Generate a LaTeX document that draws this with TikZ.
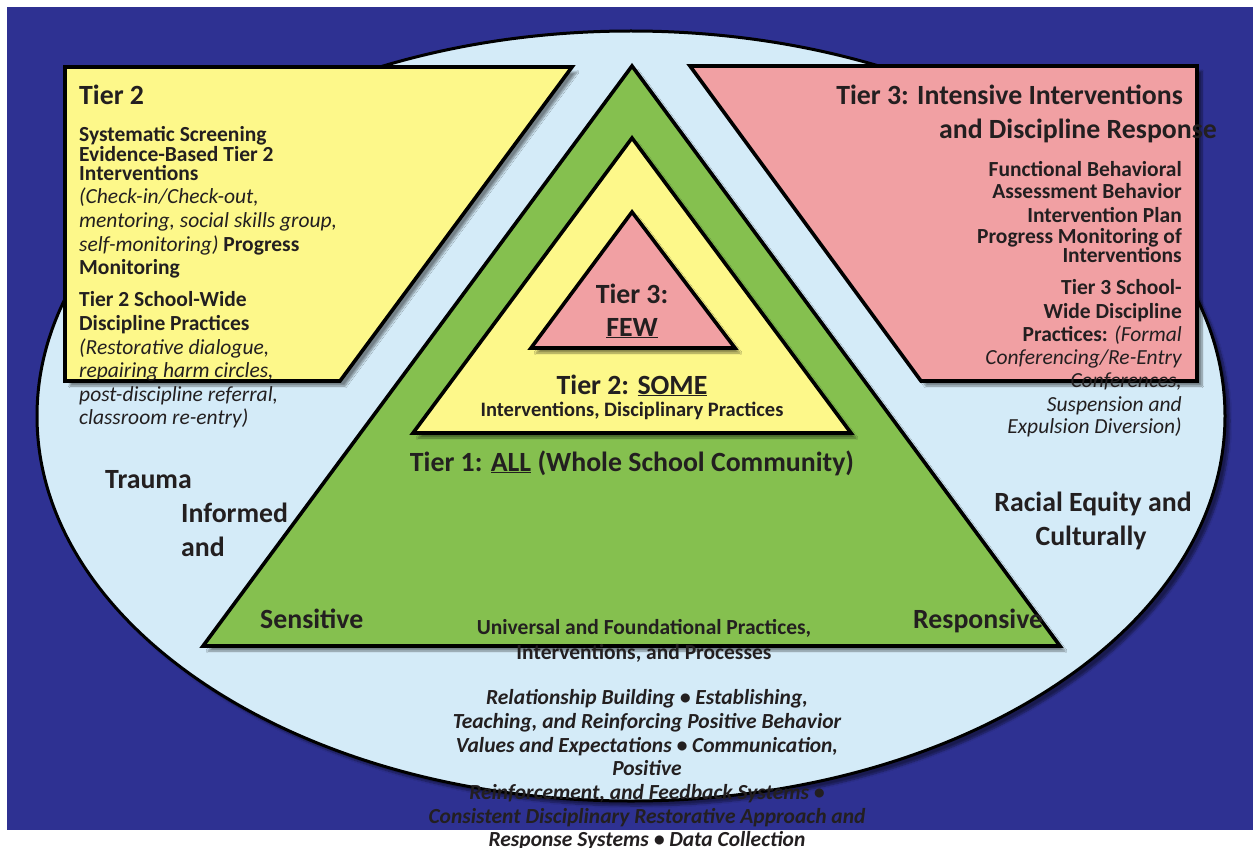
\documentclass[tikz,border=0pt]{standalone}
\usepackage{fontspec}
\setmainfont{Carlito}
\usetikzlibrary{shadows.blur}
\definecolor{bgblue}{HTML}{2E3192}
\definecolor{ellfill}{HTML}{D4EBF8}
\definecolor{tgreen}{HTML}{85C04F}
\definecolor{tyellow}{HTML}{FDF88A}
\definecolor{tpink}{HTML}{F1A0A3}
\definecolor{txt}{HTML}{231F20}
\begin{document}
\begin{tikzpicture}[x=1pt,y=-1pt,
  shape outline/.style={draw=black,line width=3.6pt,line join=miter},
  shadowed/.style={blur shadow={shadow xshift=5pt,shadow yshift=-5pt,shadow blur steps=8,shadow opacity=45}},
  lbl/.style={inner sep=0pt,text=txt,font=\fontsize{21.5}{24}\selectfont\bfseries},
  big/.style={lbl,font=\fontsize{27.8}{30}\selectfont\bfseries},
  itl/.style={lbl,font=\fontsize{21.5}{24}\selectfont\itshape},
  bit/.style={lbl,font=\fontsize{21.5}{24}\selectfont\bfseries\itshape},
  small/.style={lbl,font=\fontsize{20.5}{23}\selectfont\bfseries},
  L/.style={anchor=base west},
  R/.style={anchor=base east},
  C/.style={anchor=base}]
\useasboundingbox (0,0) rectangle (1253,848);
\fill[bgblue] (7,7) rectangle (1253,830);
\path[shadowed,fill=ellfill,draw=black,line width=3pt] (631,416) ellipse [x radius=594, y radius=385];
% boxes
\path[shadowed,fill=tyellow,shape outline] (65,67) -- (572,67) -- (340,381) -- (65,381) -- cycle;
\path[shadowed,fill=tpink,shape outline] (690,66) -- (1197,66) -- (1197,381) -- (921,381) -- cycle;
% triangles
\path[shadowed,fill=tgreen,shape outline] (632,66) -- (1060,646) -- (203,646) -- cycle;
\path[shadowed,fill=tyellow,shape outline] (632,138) -- (851,433) -- (413,433) -- cycle;
\path[shadowed,fill=tpink,shape outline] (632,212) -- (735,348) -- (531,348) -- cycle;
% left box text
\node[big,L] (t2title) at (79,105) {Tier 2};
\node[lbl,L] (t2a) at (79,142) {Systematic Screening};
\node[lbl,L] (t2b) at (79,161) {Evidence-Based Tier 2};
\node[lbl,L] (t2c) at (79,180) {Interventions};
\node[itl,L] (t2d) at (79,203) {(Check-in/Check-out,};
\node[itl,L] (t2e) at (79,227) {mentoring, social skills group,};
\node[itl,L] (t2f) at (79,251) {self-monitoring) \bfseries\upshape Progress};
\node[lbl,L] (t2g) at (79,274) {Monitoring};
\node[lbl,L] (t2h) at (79,306) {Tier 2 School-Wide};
\node[lbl,L] (t2i) at (79,330) {Discipline Practices};
\node[itl,L] (t2j) at (79,354) {(Restorative dialogue,};
\node[itl,L] (t2k) at (79,377) {repairing harm circles,};
\node[itl,L] (t2l) at (79,401) {post-discipline referral,};
\node[itl,L] (t2m) at (79,424) {classroom re-entry)};
% right box text
\node[big,R] (t3title) at (1183,105) {Tier 3: Intensive Interventions};
\node[big,R] (t3title2) at (1217,139) {and Discipline Response};
\node[lbl,R] (t3a) at (1182,176) {Functional Behavioral};
\node[lbl,R] (t3b) at (1182,198) {Assessment Behavior};
\node[lbl,R] (t3c) at (1182,222) {Intervention Plan};
\node[lbl,R] (t3d) at (1182,243) {Progress Monitoring of};
\node[lbl,R] (t3e) at (1182,262) {Interventions};
\node[lbl,R] (t3f) at (1182,294) {Tier 3 School-};
\node[lbl,R] (t3g) at (1182,318) {Wide Discipline};
\node[lbl,R] (t3h) at (1182,341) {Practices: \mdseries\itshape (Formal};
\node[itl,R] (t3i) at (1182,364) {Conferencing/Re-Entry};
\node[itl,R] (t3j) at (1182,387) {Conferences,};
\node[itl,R] (t3k) at (1182,411) {Suspension and};
\node[itl,R] (t3l) at (1182,433) {Expulsion Diversion)};
% pyramid text
\node[big,C] (few1) at (632,303) {Tier 3:};
\node[big,C] (few2) at (632,336) {\underline{FEW}};
\node[big,C] (some1) at (632,394) {Tier 2: \underline{SOME}};
\node[small,C] (some2) at (632,416) {Interventions, Disciplinary Practices};
\node[big,C] (all1) at (632,471) {Tier 1: \underline{ALL} (Whole School Community)};
% side words
\node[big,L] (tr1) at (105,488) {Trauma};
\node[big,L] (tr2) at (181,522) {Informed};
\node[big,L] (tr3) at (181,556) {and};
\node[big,L] (sens) at (260,628) {Sensitive};
\node[big,C] (re1) at (1093,511) {Racial Equity and};
\node[big,C] (re2) at (1091,545) {Culturally};
\node[big,L] (resp) at (913,628) {Responsive};
% bottom text
\node[lbl,C] (u1) at (644,634) {Universal and Foundational Practices,};
\node[lbl,C] (u2) at (644,659) {Interventions, and Processes};
\node[bit,C] (b1) at (647,704) {Relationship Building • Establishing,};
\node[bit,C] (b2) at (647,728) {Teaching, and Reinforcing Positive Behavior};
\node[bit,C] (b3) at (647,752) {Values and Expectations • Communication,};
\node[bit,C] (b4) at (647,775) {Positive};
\node[bit,C] (b5) at (647,799) {Reinforcement, and Feedback Systems •};
\node[bit,C] (b6) at (647,823) {Consistent Disciplinary Restorative Approach and};
\node[bit,C] (b7) at (647,846) {Response Systems • Data Collection};
\end{tikzpicture}
\end{document}
